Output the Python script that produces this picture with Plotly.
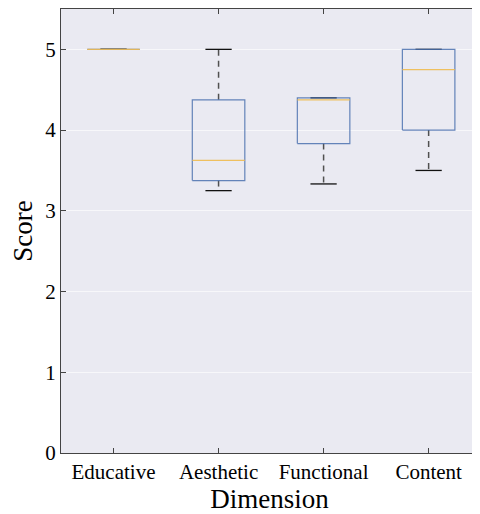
import plotly.graph_objects as go

categories = ["Educative", "Aesthetic", "Functional", "Content"]
lower_whisker = [5.0, 3.25, 3.333, 3.5]
q1 = [5.0, 3.375, 3.833, 4.0]
median = [5.0, 3.625, 4.375, 4.75]
q3 = [5.0, 4.375, 4.4, 5.0]
upper_whisker = [5.0, 5.0, 4.4, 5.0]
y_ticks = [0, 1, 2, 3, 4, 5]

BOX_HALF = 0.25
CAP_HALF = 0.125
box_color = "#4C72B0"
median_color = "#F0BC50"
whisker_color = "#505050"
cap_color = "#111111"

fig = go.Figure()
for i, name in enumerate(categories):
    fig.add_trace(go.Scatter(x=[i, i], y=[q3[i], upper_whisker[i]], mode="lines",
                             line=dict(color=whisker_color, width=1.5, dash="6px,5px"),
                             showlegend=False, hoverinfo="skip"))
    fig.add_trace(go.Scatter(x=[i, i], y=[q1[i], lower_whisker[i]], mode="lines",
                             line=dict(color=whisker_color, width=1.5, dash="6px,5px"),
                             showlegend=False, hoverinfo="skip"))
    for v in (upper_whisker[i], lower_whisker[i]):
        fig.add_trace(go.Scatter(x=[i - CAP_HALF, i + CAP_HALF], y=[v, v], mode="lines",
                                 line=dict(color=cap_color, width=1.3),
                                 showlegend=False, hoverinfo="skip"))
    fig.add_trace(go.Scatter(x=[i - BOX_HALF, i + BOX_HALF, i + BOX_HALF, i - BOX_HALF, i - BOX_HALF],
                             y=[q1[i], q1[i], q3[i], q3[i], q1[i]], mode="lines",
                             line=dict(color=box_color, width=1.2),
                             opacity=0.85,
                             showlegend=False, hoverinfo="skip", name=name))
    fig.add_trace(go.Scatter(x=[i - BOX_HALF, i + BOX_HALF], y=[median[i], median[i]], mode="lines",
                             line=dict(color=median_color, width=1.3),
                             opacity=0.9,
                             showlegend=False, hoverinfo="skip"))

font = "Liberation Serif, Times New Roman, serif"
fig.update_layout(
    width=472, height=506,
    margin=dict(l=53, r=2, t=1, b=61),
    paper_bgcolor="white",
    plot_bgcolor="#EAEAF2",
    font=dict(family=font, size=21, color="black"),
    xaxis=dict(
        range=[-0.5, 3.47],
        tickmode="array",
        tickvals=list(range(len(categories))),
        ticktext=categories,
        showgrid=False,
        zeroline=False,
        automargin=False,
        showline=True, linecolor="#444444", linewidth=1.2, mirror="ticks",
        ticks="inside", ticklen=5, tickcolor="#444444",
        tickfont=dict(family=font, size=21),
        title=dict(text="Dimension", font=dict(family=font, size=27), standoff=2),
    ),
    yaxis=dict(
        range=[0, 5.5],
        tickmode="array",
        tickvals=y_ticks,
        showgrid=True, gridcolor="#F7F7FA", gridwidth=1.2,
        zeroline=False,
        automargin=False,
        showline=True, linecolor="#444444", linewidth=1.2, mirror="ticks",
        ticks="inside", ticklen=5, tickcolor="#444444",
        tickfont=dict(family=font, size=21),
        title=dict(text="Score", font=dict(family=font, size=27), standoff=6),
    ),
)

fig.write_html("out.html")
